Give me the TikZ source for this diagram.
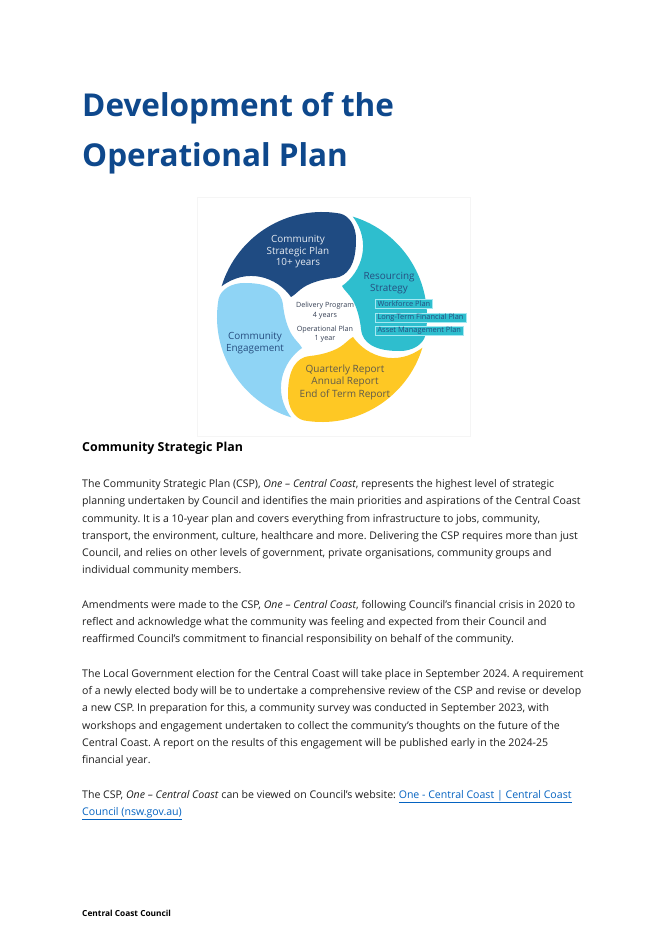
\documentclass[tikz,border=0pt]{standalone}
\usepackage{fontspec}
\setmainfont{Open Sans}
\usetikzlibrary{positioning}
\frenchspacing
\definecolor{cspblue}{RGB}{31,75,130}
\definecolor{resteal}{RGB}{46,190,206}
\definecolor{repyellow}{RGB}{254,200,36}
\definecolor{englight}{RGB}{143,212,245}
\definecolor{titleblue}{RGB}{14,72,140}
\definecolor{linkblue}{RGB}{5,99,193}
\definecolor{labelnavy}{RGB}{38,78,128}
\definecolor{boxline}{RGB}{165,232,242}
\definecolor{bodytext}{RGB}{30,30,30}
\definecolor{reptext}{RGB}{95,90,75}
\definecolor{centretext}{RGB}{55,65,85}
% one petal of the swirl, drawn around (0,0), y up
\newcommand{\petalpath}{(163:105) arc[start angle=163, end angle=80, radius=105]
  .. controls (28,101) and (34,90) .. (34,78) .. controls (34,68) and (33,57) .. (28,49)
  .. controls (24,43) and (20,40) .. (12,39) .. controls (2,38) and (-10,35) .. (-18,30)
  .. controls (-23,27) and (-27,22) .. (-31,20) .. controls (-45,40) and (-75,50) .. (163:105) -- cycle}
\tikzset{
  bodyline/.style={anchor=base west, inner sep=0pt, text=bodytext, font=\fontsize{9.4}{13}\selectfont},
  titleline/.style={anchor=base west, inner sep=0pt, text=titleblue, font=\fontsize{28}{32}\selectfont\bfseries},
  petallabel/.style={align=center, inner sep=0pt, font=\fontsize{8.8}{10.2}\selectfont},
  centrelabel/.style={align=center, inner sep=0pt, text=centretext, font=\fontsize{6.4}{8.4}\selectfont},
  planbox/.style={anchor=west, draw=boxline, fill=resteal, line width=0.5pt, inner xsep=2pt, inner ysep=0.6pt,
    minimum height=8pt, text=labelnavy, font=\fontsize{6.6}{7}\selectfont}
}
\newcommand{\linktext}[1]{\textcolor{linkblue}{\underline{#1}}}
\begin{document}
\begin{tikzpicture}[x=0.889pt,y=-0.889pt]
\useasboundingbox (0,0) rectangle (669,947);
\fill[white] (0,0) rectangle (669,947);

% title
\node[titleline] (title1) at (82,117) {Development of the};
\node[titleline] (title2) at (82,167) {Operational Plan};

% integrated planning diagram
\draw[black!4, line width=0.4pt] (197,197) rectangle (470,436);
\foreach \ang/\col in {0/cspblue,-90/resteal,-180/repyellow,-270/englight}{
  \begin{scope}[shift={(322,317)}, rotate=\ang, yscale=-1]
    \fill[color=\col] \petalpath;
  \end{scope}
}
\node[petallabel, text=white!88!cspblue] (csp) at (298,252) {Community\\Strategic Plan\\10+ years};
\node[petallabel, text=labelnavy] (res) at (389,283) {Resourcing\\Strategy};
\node[planbox] (workforce) at (375,304) {Workforce Plan};
\node[planbox] (ltfp) at (375,317.5) {Long-Term Financial Plan};
\node[planbox] (amp) at (375,330.5) {Asset Management Plan};
\node[petallabel, text=labelnavy] (eng) at (255,343) {Community\\Engagement};
\node[petallabel, text=reptext, font=\fontsize{8.9}{11.1}\selectfont] (rep) at (345,382) {Quarterly Report\\Annual Report\\End of Term Report};
\node[centrelabel] (dp) at (325,310.5) {Delivery Program\\4 years};
\node[centrelabel] (op) at (325,334) {Operational Plan\\1 year};

% section heading
\node[bodyline, font=\fontsize{11}{13}\selectfont\bfseries, text=black] (csphead) at (82,451.5) {Community Strategic Plan};

% paragraph 1
\node[bodyline] (p1a) at (82,487.5) {The Community Strategic Plan (CSP), \textit{One – Central Coast}, represents the highest level of strategic};
\node[bodyline] (p1b) at (82,504.75) {planning undertaken by Council and identifies the main priorities and aspirations of the Central Coast};
\node[bodyline] (p1c) at (82,522) {community. It is a 10-year plan and covers everything from infrastructure to jobs, community,};
\node[bodyline] (p1d) at (82,539.25) {transport, the environment, culture, healthcare and more. Delivering the CSP requires more than just};
\node[bodyline] (p1e) at (82,556.5) {Council, and relies on other levels of government, private organisations, community groups and};
\node[bodyline] (p1f) at (82,573.75) {individual community members.};

% paragraph 2
\node[bodyline] (p2a) at (82,608.25) {Amendments were made to the CSP, \textit{One – Central Coast}, following Council’s financial crisis in 2020 to};
\node[bodyline] (p2b) at (82,625.5) {reflect and acknowledge what the community was feeling and expected from their Council and};
\node[bodyline] (p2c) at (82,642.75) {reaffirmed Council’s commitment to financial responsibility on behalf of the community.};

% paragraph 3
\node[bodyline] (p3a) at (82,677.25) {The Local Government election for the Central Coast will take place in September 2024. A requirement};
\node[bodyline] (p3b) at (82,694.5) {of a newly elected body will be to undertake a comprehensive review of the CSP and revise or develop};
\node[bodyline] (p3c) at (82,711.75) {a new CSP. In preparation for this, a community survey was conducted in September 2023, with};
\node[bodyline] (p3d) at (82,729) {workshops and engagement undertaken to collect the community’s thoughts on the future of the};
\node[bodyline] (p3e) at (82,746.25) {Central Coast. A report on the results of this engagement will be published early in the 2024-25};
\node[bodyline] (p3f) at (82,763.5) {financial year.};

% paragraph 4
\node[bodyline] (p4a) at (82,798) {The CSP, \textit{One – Central Coast} can be viewed on Council’s website: \linktext{One - Central Coast | Central Coast}};
\node[bodyline] (p4b) at (82,815.25) {\linktext{Council (nsw.gov.au)}};

% footer
\node[bodyline, font=\fontsize{7.4}{9}\selectfont\bfseries, text=black] (footer) at (82,916) {Central Coast Council};
\end{tikzpicture}
\end{document}
